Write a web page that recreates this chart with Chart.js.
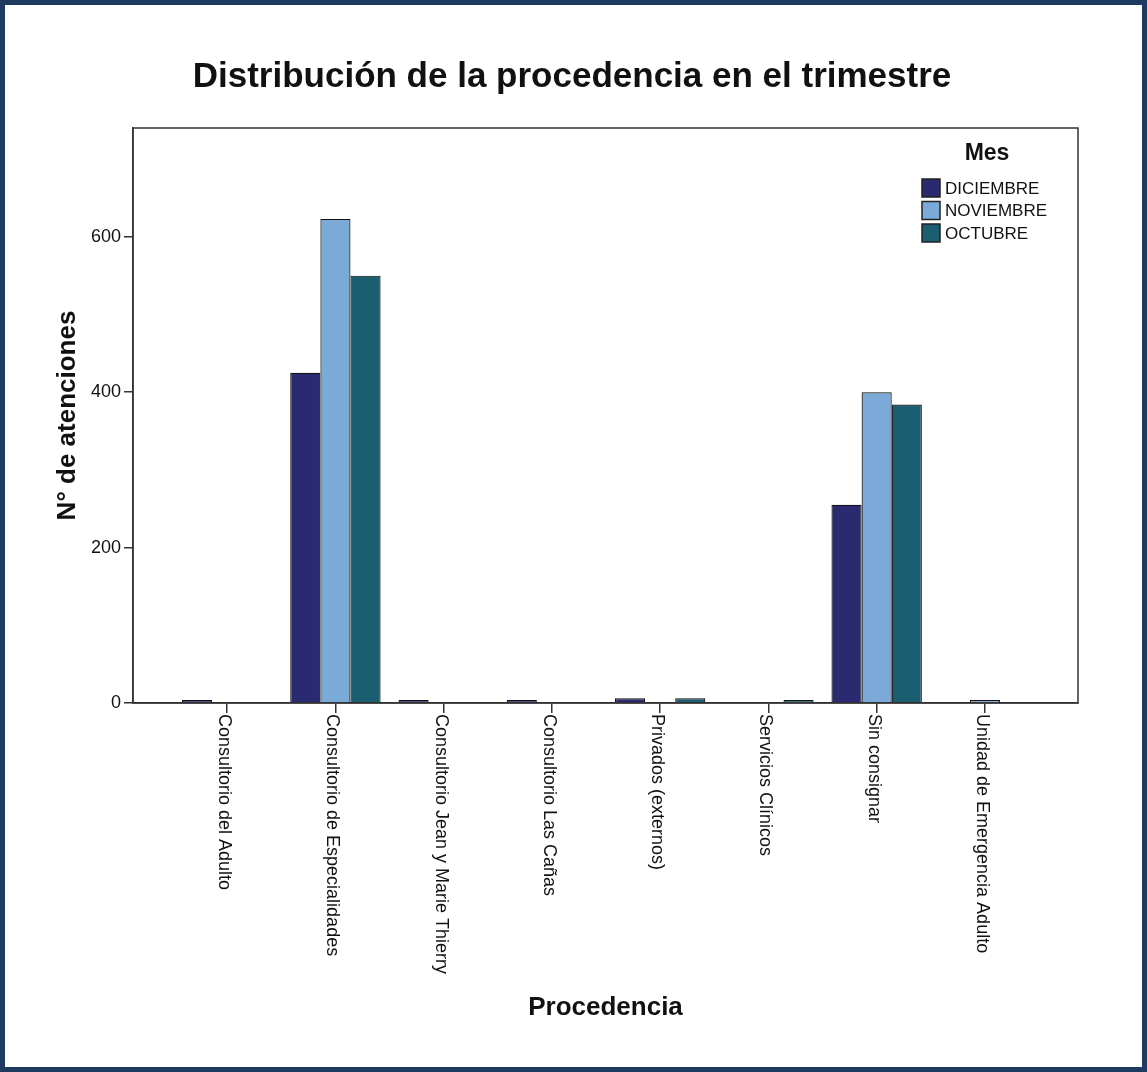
<!DOCTYPE html>
<html>
<head>
<meta charset="utf-8">
<script src="https://cdn.jsdelivr.net/npm/chart.js@4/dist/chart.umd.min.js"></script>
<style>
    html, body { margin: 0; padding: 0; background: #fff; }
    #wrap { position: relative; width: 1147px; height: 1072px; }
    #frame {
        position: absolute; left: 0; top: 0; width: 1147px; height: 1072px;
        box-sizing: border-box; border: 5px solid #1c3b5f; pointer-events: none;
    }
</style>
</head>
<body>
<div id="wrap">
    <canvas id="chart" width="1147" height="1072"></canvas>
    <div id="frame"></div>
</div>
<script>
// --- DATA ---
const chartTitle = 'Distribución de la procedencia en el trimestre';
const categories = [
    'Consultorio del Adulto',
    'Consultorio de Especialidades',
    'Consultorio Jean y Marie Thierry',
    'Consultorio Las Cañas',
    'Privados (externos)',
    'Servicios Clínicos',
    'Sin consignar',
    'Unidad de Emergencia Adulto'
];
const months = ['DICIEMBRE', 'NOVIEMBRE', 'OCTUBRE'];
// null = no bar for that month
const diciembre = [3, 425, 1, 1, 6, null, 255, null];
const noviembre = [null, 623, null, null, null, null, 400, 1];
const octubre = [null, 550, null, null, 6, 1, 384, null];
const colors = ['#2a2a70', '#7baad8', '#1b5e72'];
const yTicks = [0, 200, 400, 600];

const font = 'Arial, "Liberation Sans", sans-serif';

// --- PLUGINS ---
// title, x labels read top-to-bottom, plot frame, legend inside the plot
const extras = {
    id: 'extras',
    afterDraw(chart) {
        const { ctx, chartArea: area } = chart;
        const xScale = chart.scales.x;

        ctx.save();
        ctx.fillStyle = '#111';
        ctx.font = 'bold 35px ' + font;
        ctx.textAlign = 'center';
        ctx.textBaseline = 'middle';
        ctx.fillText(chartTitle, 572, 77);

        ctx.strokeStyle = '#333';
        ctx.lineWidth = 1.5;
        ctx.strokeRect(area.left, area.top, area.right - area.left, area.bottom - area.top);

        ctx.font = '18px ' + font;
        ctx.textAlign = 'left';
        categories.forEach((label, i) => {
            const x = xScale.getPixelForValue(i);
            ctx.save();
            ctx.translate(x - 3, area.bottom + 11);
            ctx.rotate(Math.PI / 2);
            ctx.fillText(label, 0, 0);
            ctx.restore();
        });

        // legend
        ctx.font = 'bold 23px ' + font;
        ctx.textAlign = 'center';
        ctx.fillText('Mes', 987, 154);
        ctx.font = '17px ' + font;
        ctx.textAlign = 'left';
        chart.data.datasets.forEach((ds, i) => {
            const y = 179 + i * 22.5;
            ctx.fillStyle = ds.backgroundColor;
            ctx.fillRect(922, y, 18, 18);
            ctx.strokeStyle = '#222';
            ctx.lineWidth = 1.5;
            ctx.strokeRect(922, y, 18, 18);
            ctx.fillStyle = '#111';
            ctx.fillText(ds.label, 945, y + 10);
        });
        ctx.restore();
    }
};

const makeDataset = (label, values, i) => ({
    label: label,
    data: values.map((v, idx) => ({ x: idx, y: v })),
    backgroundColor: colors[i],
    borderColor: '#111',
    borderWidth: 1.2,
    borderSkipped: 'bottom',
    minBarLength: 3,
    categoryPercentage: 0.835,
    barPercentage: 1
});

new Chart(document.getElementById('chart').getContext('2d'), {
    type: 'bar',
    data: {
        datasets: [
            makeDataset(months[0], diciembre, 0),
            makeDataset(months[1], noviembre, 1),
            makeDataset(months[2], octubre, 2)
        ]
    },
    options: {
        responsive: false,
        animation: false,
        layout: { padding: { top: 128, left: 0, right: 69, bottom: 0 } },
        plugins: {
            legend: { display: false },
            tooltip: { enabled: false },
            title: { display: false }
        },
        scales: {
            x: {
                type: 'linear',
                offset: false,
                min: -0.87,
                max: 7.86,
                afterFit: scale => { scale.height = 369; },
                afterBuildTicks: scale => {
                    scale.ticks = categories.map((c, i) => ({ value: i }));
                },
                grid: { display: true, offset: false, drawOnChartArea: false, tickLength: 10, color: '#333', lineWidth: 1.5 },
                border: { display: true, color: '#333', width: 1.5 },
                ticks: { display: false },
                title: {
                    display: true,
                    text: 'Procedencia',
                    color: '#111',
                    font: { family: font, size: 26, weight: 'bold' },
                    padding: { top: 0, bottom: 49 }
                }
            },
            y: {
                min: 0,
                max: 740,
                afterFit: scale => { scale.width = 133; },
                afterBuildTicks: scale => {
                    scale.ticks = yTicks.map(v => ({ value: v }));
                },
                grid: { display: true, drawOnChartArea: false, tickLength: 9, color: '#333', lineWidth: 1.5 },
                border: { display: true, color: '#333', width: 1.5 },
                ticks: {
                    color: '#111',
                    padding: 3,
                    font: { family: font, size: 18 }
                },
                title: {
                    display: true,
                    text: 'N° de atenciones',
                    color: '#111',
                    font: { family: font, size: 26, weight: 'bold' },
                    padding: { top: 52, bottom: 0 }
                }
            }
        }
    },
    plugins: [extras]
});
</script>
</body>
</html>
